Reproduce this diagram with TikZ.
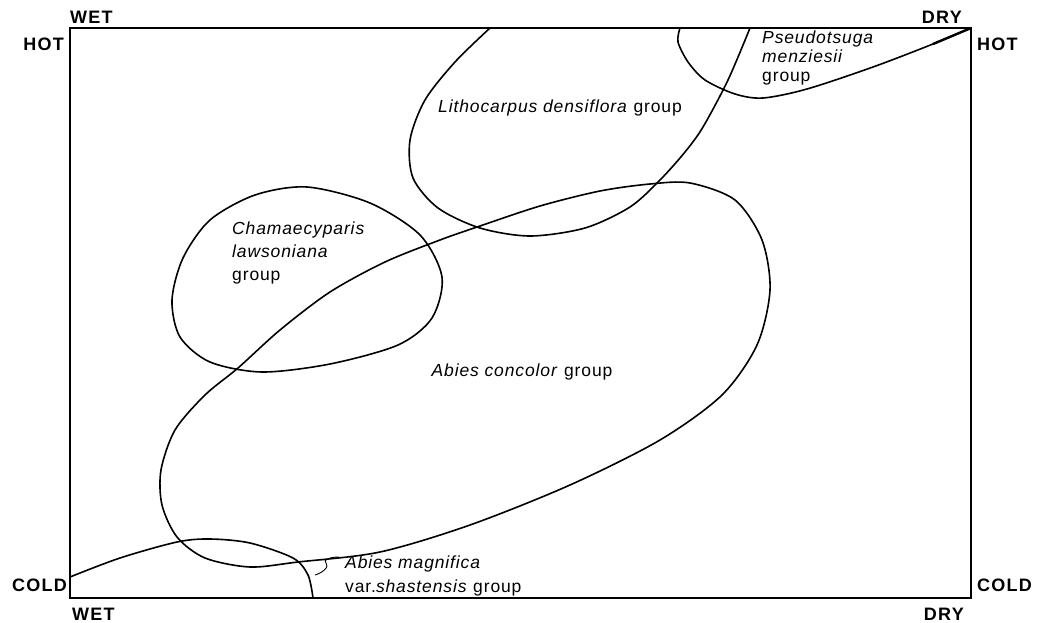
\documentclass[tikz,border=0pt]{standalone}
\usepackage{fontspec}
\setmainfont{Liberation Sans}
\newfontfamily\axisfont[LetterSpace=7]{Liberation Sans}
\newfontfamily\groupfont[LetterSpace=5]{Liberation Sans}
\usepackage{tikz}
\tikzset{
	axlbl/.style={font=\axisfont\bfseries\fontsize{18}{18}\selectfont, inner sep=0pt},
	grplbl/.style={font=\groupfont\fontsize{17.5}{17.5}\selectfont, inner sep=0pt, anchor=base west},
	zone/.style={line width=1.6pt, line join=round, line cap=round}
}

\begin{document}
\begin{tikzpicture}[x=1pt, y=-1pt]
			%%%%% START %%%%%
			\useasboundingbox (0, 0) rectangle (1044, 623);
			
			\draw[line width=1.3pt] (70, 28) rectangle (971, 598);
			
			% corner labels
			\node[axlbl, anchor=base west] (wettop) at (70, 24) {WET};
			\node[axlbl, anchor=base east] (drytop) at (962, 24) {DRY};
			\node[axlbl, anchor=base east] (hotleft) at (64, 51) {HOT};
			\node[axlbl, anchor=base west] (hotright) at (977, 51) {HOT};
			\node[axlbl, anchor=base east] (coldleft) at (67, 591) {COLD};
			\node[axlbl, anchor=base west] (coldright) at (977, 591) {COLD};
			\node[axlbl, anchor=base west] (wetbot) at (72, 620) {WET};
			\node[axlbl, anchor=base east] (drybot) at (964, 620) {DRY};
			
			% Abies concolor
			\draw[zone] plot[smooth cycle] coordinates {(690, 183) (735, 200) (762, 240) (770, 290) (757, 345)
				(722, 395) (660, 440) (570, 485) (470, 525) (380, 552) (298, 562) (250, 567) (205, 558)
				(177, 537) (162, 505) (161, 470) (175, 430) (205, 395) (238, 368) (280, 330) (330, 292)
				(385, 262) (440, 240) (480, 226) (540, 206) (600, 191) (650, 184)};
			
			% Chamaecyparis lawsoniana
			\draw[zone] plot[smooth cycle] coordinates {(307, 187) (370, 203) (420, 235) (442, 277) (432, 318)
				(398, 345) (330, 364) (262, 372) (210, 362) (180, 337) (172, 300) (183, 258) (210, 220) (255, 195)};
			
			% Lithocarpus densiflora
			\draw[zone] plot[smooth] coordinates {(490, 28) (455, 62) (425, 100) (410, 140) (413, 178) (438, 208)
				(480, 228) (530, 236) (585, 228) (630, 207) (660, 180) (685, 152) (703, 127) (728, 80) (750, 28)};
			
			% Pseudotsuga menziesii
			\draw[zone] plot[smooth] coordinates {(680, 28) (678, 42) (688, 62) (705, 80) (735, 94) (763, 98)
				(807, 89) (873, 67) (933, 44) (971, 28)};
			\draw[line width=2.4pt] (933, 44) -- (971, 28);
			
			% Abies magnifica
			\draw[zone] plot[smooth] coordinates {(70, 577) (120, 558) (177, 542) (210, 539) (250, 543)
				(293, 558) (308, 575) (313, 598)};
			\draw[line width=0.9pt] (339, 557) .. controls (330, 557) and (322, 560) .. (326, 563)
				.. controls (330, 567) and (322, 573) .. (315, 575);
			
			% group labels
			\node[grplbl] (litho) at (438, 113) {\textit{Lithocarpus densiflora} group};
			\node[grplbl] (pseudoa) at (762, 44) {\textit{Pseudotsuga}};
			\node[grplbl] (pseudob) at (762, 63) {\textit{menziesii}};
			\node[grplbl] (pseudoc) at (762, 82) {group};
			\node[grplbl] (chamaea) at (232, 234) {\textit{Chamaecyparis}};
			\node[grplbl] (chamaeb) at (232, 257) {\textit{lawsoniana}};
			\node[grplbl] (chamaec) at (232, 280) {group};
			\node[grplbl, anchor=base] (concolor) at (522, 376) {\textit{Abies concolor} group};
			\node[grplbl] (magnia) at (345, 568) {\textit{Abies magnifica}};
			\node[grplbl] (magnib) at (345, 592) {var.\textit{shastensis} group};
			%%%%% END %%%%%
\end{tikzpicture}
\end{document}
